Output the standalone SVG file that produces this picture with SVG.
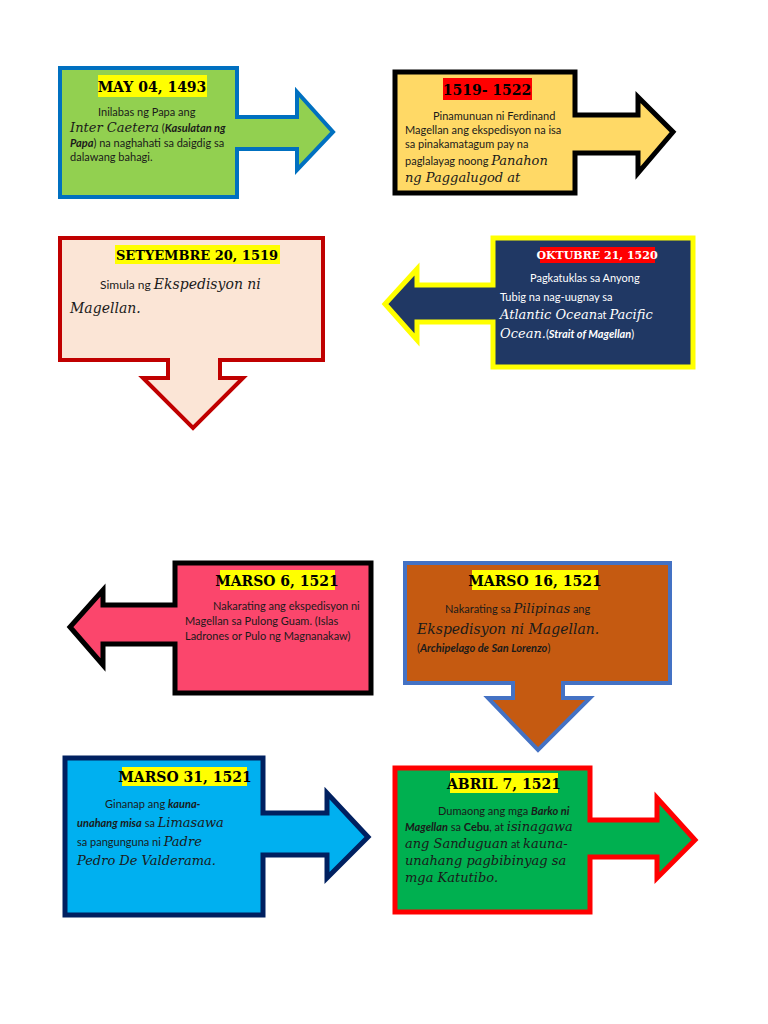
<svg xmlns="http://www.w3.org/2000/svg" width="768" height="1024" viewBox="0 0 768 1024">
<style>
.shape{stroke-linejoin:miter}
.title{font-family:"DejaVu Serif","Liberation Serif",serif;font-weight:bold;font-size:14px;text-anchor:middle;fill:#000}
.body{font-family:Lato,"Liberation Sans",sans-serif;font-size:11px;fill:#1a1a1a}
.scr{font-family:"DejaVu Serif","Liberation Serif",serif;font-style:italic;font-size:13px}
.bi{font-weight:bold;font-style:italic}
.b{font-weight:bold}
.hl{fill:#FFFF00}
.w{fill:#fff}
</style>
<rect width="768" height="1024" fill="#fff"/>
<g id="connectors"></g>

<g id="n1">
<polygon class="shape" points="60,68 237,68 237,117 297,117 297,92 333,132 297,170 297,149 237,149 237,197 60,197" fill="#92D050" stroke="#0070C0" stroke-width="4"/>
<rect class="hl" x="98" y="75" width="109" height="22"/>
<text class="title" x="152" y="92">MAY 04, 1493</text>
<text class="body" x="98" y="116">Inilabas ng Papa ang</text>
<text class="body" x="70" y="132"><tspan class="scr">Inter Caetera</tspan> (<tspan class="bi">Kasulatan ng</tspan></text>
<text class="body" x="70" y="147"><tspan class="bi">Papa</tspan>) na naghahati sa daigdig sa</text>
<text class="body" x="70" y="161">dalawang bahagi.</text>
</g>

<g id="n2">
<polygon class="shape" points="395,72 575,72 575,115 638,115 638,97 673,132 638,173 638,153 575,153 575,193 395,193" fill="#FFD966" stroke="#000" stroke-width="5"/>
<rect x="443" y="78" width="89" height="22" fill="#FF0000"/>
<text class="title" x="487" y="95">1519- 1522</text>
<text class="body" x="433" y="120">Pinamunuan ni Ferdinand</text>
<text class="body" x="405" y="134">Magellan ang ekspedisyon na isa</text>
<text class="body" x="405" y="148">sa pinakamatagum pay na</text>
<text class="body" x="405" y="165">paglalayag noong <tspan class="scr">Panahon</tspan></text>
<text class="body" x="405" y="182"><tspan class="scr">ng Paggalugod at</tspan></text>
</g>

<g id="n3">
<polygon class="shape" points="60,238 323,238 323,360 220,360 220,378 243,378 193,428 143,378 168,378 168,360 60,360" fill="#FBE5D6" stroke="#C00000" stroke-width="4"/>
<rect class="hl" x="115" y="245" width="165" height="19"/>
<text class="title" x="197" y="260" style="font-size:13px">SETYEMBRE 20, 1519</text>
<text class="body" x="100" y="289" style="font-size:12px">Simula ng <tspan class="scr" style="font-size:14px">Ekspedisyon ni</tspan></text>
<text class="body" x="70" y="313"><tspan class="scr" style="font-size:14px">Magellan.</tspan></text>
</g>

<g id="n4">
<polygon class="shape" points="493,238 693,238 693,367 493,367 493,322 417,322 417,340 385,304 417,269 417,285 493,285" fill="#203864" stroke="#FFFF00" stroke-width="5"/>
<rect x="540" y="247" width="115" height="16" fill="#FF0000"/>
<text class="title w" x="597" y="259" style="font-size:11px;fill:#fff">OKTUBRE 21, 1520</text>
<text class="body w" x="530" y="282" style="fill:#fff">Pagkatuklas sa Anyong</text>
<text class="body w" x="500" y="301" style="fill:#fff">Tubig na nag-uugnay sa</text>
<text class="body w" x="500" y="319" style="fill:#fff"><tspan class="scr">Atlantic Ocean</tspan>at <tspan class="scr">Pacific</tspan></text>
<text class="body w" x="500" y="338" style="fill:#fff"><tspan class="scr">Ocean.</tspan>(<tspan class="bi">Strait of Magellan</tspan>)</text>
</g>

<g id="n5">
<polygon class="shape" points="175,563 371,563 371,693 175,693 175,644 103,644 103,665 70,627 103,590 103,605 175,605" fill="#FB466C" stroke="#000" stroke-width="5"/>
<rect class="hl" x="220" y="570" width="115" height="20"/>
<text class="title" x="277" y="586">MARSO 6, 1521</text>
<text class="body" x="213" y="610">Nakarating ang ekspedisyon ni</text>
<text class="body" x="185" y="625">Magellan sa Pulong Guam. (Islas</text>
<text class="body" x="185" y="640">Ladrones or Pulo ng Magnanakaw)</text>
</g>

<g id="n6">
<polygon class="shape" points="405,563 670,563 670,683 563,683 563,698 590,698 538,750 488,698 513,698 513,683 405,683" fill="#C55A11" stroke="#4472C4" stroke-width="4"/>
<rect class="hl" x="472" y="570" width="126" height="20"/>
<text class="title" x="535" y="586">MARSO 16, 1521</text>
<text class="body" x="445" y="613">Nakarating sa <tspan class="scr">Pilipinas</tspan> ang</text>
<text class="body" x="417" y="634"><tspan class="scr" style="font-size:14px">Ekspedisyon ni Magellan.</tspan></text>
<text class="body" x="417" y="652">(<tspan class="bi">Archipelago de San Lorenzo</tspan>)</text>
</g>

<g id="n7">
<polygon class="shape" points="65,758 263,758 263,813 327,813 327,793 368,837 327,878 327,855 263,855 263,915 65,915" fill="#00B0F0" stroke="#002060" stroke-width="5"/>
<rect class="hl" x="122" y="767" width="125" height="19"/>
<text class="title" x="185" y="782">MARSO 31, 1521</text>
<text class="body" x="105" y="808">Ginanap ang <tspan class="bi">kauna-</tspan></text>
<text class="body" x="77" y="827"><tspan class="bi">unahang misa</tspan> sa <tspan class="scr">Limasawa</tspan></text>
<text class="body" x="77" y="846">sa pangunguna ni <tspan class="scr">Padre</tspan></text>
<text class="body" x="77" y="865"><tspan class="scr">Pedro De Valderama.</tspan></text>
</g>

<g id="n8">
<polygon class="shape" points="395,768 590,768 590,820 657,820 657,798 695,840 657,878 657,857 590,857 590,912 395,912" fill="#00B050" stroke="#FF0000" stroke-width="5"/>
<rect class="hl" x="450" y="773" width="108" height="20"/>
<text class="title" x="504" y="789">ABRIL 7, 1521</text>
<text class="body" x="438" y="815">Dumaong ang mga <tspan class="bi">Barko ni</tspan></text>
<text class="body" x="405" y="831"><tspan class="bi">Magellan</tspan> sa <tspan class="b">Cebu</tspan>, at <tspan class="scr">isinagawa</tspan></text>
<text class="body" x="405" y="848"><tspan class="scr">ang Sanduguan</tspan> at <tspan class="scr">kauna-</tspan></text>
<text class="body" x="405" y="865"><tspan class="scr">unahang pagbibinyag sa</tspan></text>
<text class="body" x="405" y="882"><tspan class="scr">mga Katutibo.</tspan></text>
</g>
</svg>
